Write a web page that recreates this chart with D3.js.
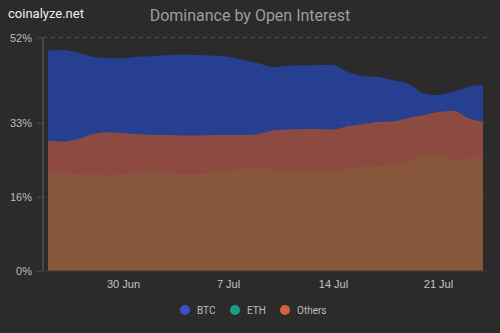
<!DOCTYPE html>
<html>
<head>
<meta charset="utf-8">
<script src="https://cdn.jsdelivr.net/npm/d3@7"></script>
<style>
  html, body { margin: 0; padding: 0; background: #2b2b2b; }
  svg { display: block; font-family: Roboto, "Noto Sans", sans-serif; }
</style>
</head>
<body>
<svg id="chart" width="500" height="333"></svg>
<script>
// Daily open-interest dominance, 25 Jun – 24 Jul
const startDate = "2023-06-25";
const btc = [49.1, 49.2, 48.6, 47.7, 47.4, 47.4, 47.7, 47.9, 48.1, 48.2,
             48.1, 48.0, 47.7, 47.0, 46.3, 45.4, 45.7, 45.8, 45.9, 45.9,
             44.3, 43.4, 43.2, 42.5, 41.8, 39.6, 39.2, 39.9, 41.0, 41.4];
const eth = [29.0, 28.8, 29.4, 30.5, 30.9, 30.7, 30.5, 30.3, 30.3, 30.2,
             30.2, 30.3, 30.3, 30.3, 30.5, 31.3, 31.5, 31.6, 31.6, 31.5,
             32.3, 32.7, 33.2, 33.3, 34.1, 34.7, 35.4, 35.7, 34.1, 33.3];
const others = [21.8, 21.7, 21.6, 21.5, 21.4, 21.6, 21.7, 21.8, 21.7, 21.6,
                21.6, 21.8, 22.3, 22.9, 23.2, 22.5, 22.0, 21.9, 22.0, 22.2,
                22.9, 23.3, 23.4, 23.6, 24.4, 25.4, 25.6, 24.7, 25.1, 25.3];
const yTicks = [0, 16.5, 33, 52];
const yTickLabels = ["0%", "16%", "33%", "52%"];
const xTickDates = ["2023-06-30", "2023-07-07", "2023-07-14", "2023-07-21"];
const seriesNames = ["BTC", "ETH", "Others"];

const parse = d3.utcParse("%Y-%m-%d");
const t0 = parse(startDate);
const dates = btc.map((_, i) => d3.utcDay.offset(t0, i));

const svg = d3.select("#chart");
const plotLeft = 48, plotRight = 483, plotTop = 37.5, plotBottom = 271;

const x = d3.scaleUtc().domain([dates[0], dates[dates.length - 1]]).range([plotLeft, plotRight]);
const y = d3.scaleLinear().domain([0, 52]).range([plotBottom, plotTop]);

// Title and site mark
svg.append("text").attr("x", 8).attr("y", 18)
  .attr("fill", "#f0f0f0").attr("font-size", 13).attr("font-weight", 400)
  .text("coinalyze.net");
svg.append("text").attr("x", 250).attr("y", 21).attr("text-anchor", "middle")
  .attr("fill", "#9d9d9d").attr("font-size", 16)
  .text("Dominance by Open Interest");

// Overlapping areas, each from zero
const layers = [
  { name: "BTC", values: btc, fill: "#263f91" },
  { name: "ETH", values: eth, fill: "#8d4a40" },
  { name: "Others", values: others, fill: "#88573b" }
];
layers.forEach(l => {
  const area = d3.area()
    .x((d, i) => x(dates[i]))
    .y0(y(0))
    .y1(d => y(d))
    .curve(d3.curveMonotoneX);
  svg.append("path").datum(l.values).attr("d", area).attr("fill", l.fill);
});

// Dashed gridlines
svg.append("g").selectAll("line").data(yTicks.filter(v => v > 0)).join("line")
  .attr("x1", 43).attr("x2", 487)
  .attr("y1", d => y(d)).attr("y2", d => y(d))
  .attr("stroke", "#ffffff").attr("stroke-opacity", (d, i, n) => i === n.length - 1 ? 0.18 : 0.08)
  .attr("stroke-dasharray", "4,4");

// Y axis
const yAxis = d3.axisLeft(y).tickValues(yTicks)
  .tickFormat((d, i) => yTickLabels[i]).tickSize(6).tickPadding(5);
const gy = svg.append("g").attr("transform", "translate(43,0)").call(yAxis);
gy.select(".domain").attr("stroke", "#474747").attr("stroke-width", 2).attr("d", `M0,${plotTop}V${plotBottom}`);
gy.selectAll(".tick line").attr("stroke", "#4a4a4a");
gy.selectAll(".tick text").attr("fill", "#bdbdbd").attr("font-size", 11);

// X axis
const xAxis = d3.axisBottom(x).tickValues(xTickDates.map(parse))
  .tickFormat(d3.utcFormat("%-d %b")).tickSize(0).tickPadding(9);
const gx = svg.append("g").attr("transform", `translate(0,${plotBottom})`).call(xAxis);
gx.select(".domain").attr("stroke", "#3e3e3e").attr("d", "M38,0H487");
gx.selectAll(".tick text").attr("fill", "#c4c4c4").attr("font-size", 11);

// Legend
const legendColors = ["#3a50c9", "#1b9d86", "#d5613c"];
const legendX = [185, 235, 285];
const lg = svg.append("g");
seriesNames.forEach((n, i) => {
  lg.append("circle").attr("cx", legendX[i]).attr("cy", 310).attr("r", 5).attr("fill", legendColors[i]);
  lg.append("text").attr("x", legendX[i] + 12).attr("y", 314)
    .attr("fill", "#bdbdbd").attr("font-size", 10).text(n);
});
</script>
</body>
</html>
